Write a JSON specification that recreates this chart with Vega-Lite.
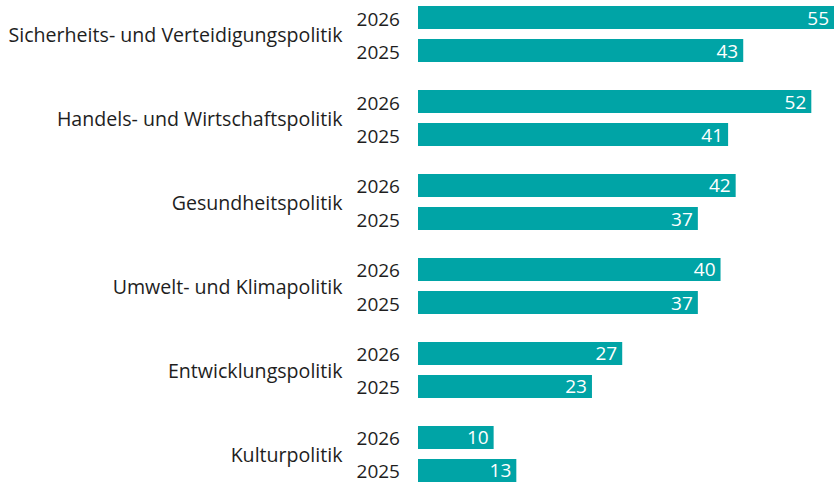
{
  "$schema": "https://vega.github.io/schema/vega-lite/v6.json",
  "width": 416,
  "height": 476,
  "autosize": {"type": "none"},
  "padding": {"left": 418, "top": 6, "right": 2, "bottom": 1},
  "config": {"view": {"stroke": null}, "font": "Open Sans"},
  "data": {
    "values": [
      {"cat": "Sicherheits- und Verteidigungspolitik", "year": "2026", "value": 55},
      {"cat": "Sicherheits- und Verteidigungspolitik", "year": "2025", "value": 43},
      {"cat": "Handels- und Wirtschaftspolitik", "year": "2026", "value": 52},
      {"cat": "Handels- und Wirtschaftspolitik", "year": "2025", "value": 41},
      {"cat": "Gesundheitspolitik", "year": "2026", "value": 42},
      {"cat": "Gesundheitspolitik", "year": "2025", "value": 37},
      {"cat": "Umwelt- und Klimapolitik", "year": "2026", "value": 40},
      {"cat": "Umwelt- und Klimapolitik", "year": "2025", "value": 37},
      {"cat": "Entwicklungspolitik", "year": "2026", "value": 27},
      {"cat": "Entwicklungspolitik", "year": "2025", "value": 23},
      {"cat": "Kulturpolitik", "year": "2026", "value": 10},
      {"cat": "Kulturpolitik", "year": "2025", "value": 13}
    ]
  },
  "encoding": {
    "y": {
      "field": "cat",
      "type": "nominal",
      "sort": null,
      "scale": {"paddingInner": 0.3333, "paddingOuter": 0},
      "axis": {
        "title": null,
        "domain": false,
        "ticks": false,
        "labelPadding": 76,
        "labelFontSize": 19.6,
        "labelColor": "#1e1e1e",
        "labelFont": "Open Sans",
        "labelLimit": 420,
        "labelOffset": 2
      }
    },
    "yOffset": {
      "field": "year",
      "type": "nominal",
      "sort": ["2026", "2025"],
      "scale": {"paddingInner": 0.303, "paddingOuter": 0}
    }
  },
  "layer": [
    {
      "mark": {"type": "bar", "color": "#00a4a6"},
      "encoding": {
        "x": {
          "field": "value",
          "type": "quantitative",
          "scale": {"domain": [0, 55], "nice": false},
          "axis": null
        }
      }
    },
    {
      "mark": {"type": "text", "align": "right", "baseline": "middle", "dx": -5, "dy": 1, "color": "white", "fontSize": 19},
      "encoding": {
        "x": {"field": "value", "type": "quantitative"},
        "text": {"field": "value"}
      }
    },
    {
      "mark": {"type": "text", "align": "right", "baseline": "middle", "dx": -18, "dy": 2, "color": "#1e1e1e", "fontSize": 19},
      "encoding": {
        "x": {"datum": 0},
        "text": {"field": "year"}
      }
    }
  ]
}
